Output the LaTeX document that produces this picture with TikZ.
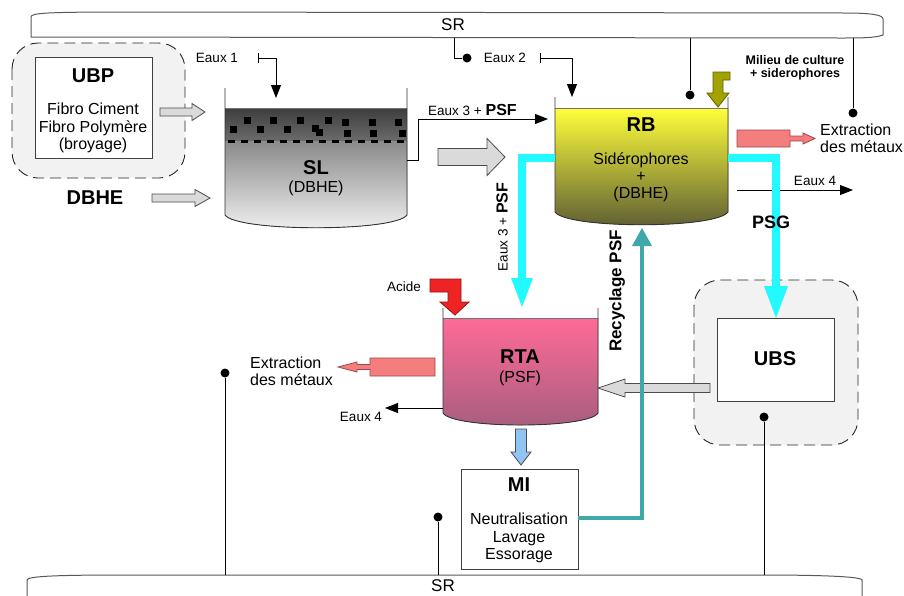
\documentclass[tikz,border=0pt]{standalone}
\usepackage{fontspec}
\setmainfont{Liberation Sans}
\usetikzlibrary{arrows.meta}
\definecolor{grpgray}{HTML}{F2F2F2}
\definecolor{arrgray}{HTML}{DADADA}
\definecolor{salmon}{HTML}{F47E7E}
\definecolor{salmonline}{HTML}{A04848}
\definecolor{cyanflow}{HTML}{22FAFF}
\definecolor{tealflow}{HTML}{3FA9A9}
\definecolor{olivefill}{HTML}{A3A300}
\definecolor{oliveline}{HTML}{5E5E00}
\definecolor{acidred}{HTML}{EE2424}
\definecolor{acidline}{HTML}{9A1010}
\definecolor{lblue}{HTML}{90C4F2}
\definecolor{rbtop}{HTML}{FFFF3A}
\definecolor{rbbot}{HTML}{5C5C34}
\definecolor{rtatop}{HTML}{FF6A98}
\definecolor{rtabot}{HTML}{A65E7E}
\begin{document}
\begin{tikzpicture}[x=1pt,y=-1pt,
  lbl/.style={font=\fontsize{13.5}{15}\selectfont, inner sep=0},
  txt/.style={font=\fontsize{16}{17.2}\selectfont, inner sep=0, align=center},
  ttl/.style={font=\fontsize{20}{22}\selectfont\bfseries, inner sep=0},
  srtxt/.style={font=\fontsize{17}{19}\selectfont, inner sep=0},
  wire/.style={draw=black, line width=0.9pt},
  flow/.style={wire, -{Triangle[length=13pt,width=10pt]}},
  dotc/.style={fill=black, circle, inner sep=0, minimum size=9pt},
  grp/.style={draw=black!85, fill=grpgray, dash pattern=on 11pt off 6pt, rounded corners=26pt, line width=0.9pt},
  boxw/.style={draw=black!75, fill=white, line width=0.9pt, inner sep=0},
  hollow/.style={draw=black!70, fill=arrgray, line width=0.8pt},
  barline/.style={draw=black!65, line width=1pt},
  tankline/.style={draw=black!80, line width=0.9pt},
  salm/.style={draw=salmonline, fill=salmon, line width=0.8pt}
]
\useasboundingbox (0,0) rectangle (904,595);
\clip (0,0) rectangle (904,595);

% ---------- SR bars ----------
\draw[barline] (31,17) .. controls (31,13) and (45,12) .. (130,12) -- (845,13) .. controls (872,13) and (883,15) .. (883,19) -- (883,35) .. controls (875,38) and (860,38) .. (840,38) -- (31,37) -- cycle;
\node[srtxt] (srtop) at (453,25) {SR};
\draw[barline] (27,600) -- (27,580) .. controls (27,576) and (60,575) .. (126,575) -- (760,575) .. controls (830,575) and (862,577) .. (862,580) -- (862,600);
\node[srtxt] (srbot) at (443,586) {SR};

% ---------- UBP group ----------
\draw[grp] (12,43) rectangle (185,178);
\node[boxw, minimum width=117pt, minimum height=101pt] (ubpbox) at (93.5,107.5) {};
\node[ttl] (ubp) at (93,76) {UBP};
\node[txt] (ubptxt) at (93,128) {Fibro Ciment\\Fibro Polymère\\(broyage)};
\node[ttl] (dbhe) at (95,198) {DBHE};
\draw[hollow] (160,108) -- (192,108) -- (192,103.5) -- (205,112) -- (192,120.5) -- (192,116) -- (160,116) -- cycle;
\draw[hollow] (152,194) -- (195,194) -- (195,189.5) -- (210,198) -- (195,206.5) -- (195,202) -- (152,202) -- cycle;

% ---------- SL tank ----------
\fill[top color=black!76, bottom color=black!58] (225,108) rectangle (407,141);
\fill[top color=black!46, bottom color=black!5] (225,141) -- (407,141) -- (407,215) .. controls (395,232) and (237,232) .. (225,215) -- cycle;
\foreach \px/\py in {247/120,273/120,300/120,328/120,345/122,372/122,398/122,233/129,260/129,287/129,315/128,319/132,347/133,373/133,402/133}
  \fill[black] (\px-3.5,\py-3.5) rectangle +(7,7);
\draw[black, line width=3pt, dash pattern=on 7pt off 6pt] (228,141) -- (406,141);
\draw[black!55, line width=0.8pt] (225,108) -- (407,108);
\draw[tankline] (225,88) -- (225,215) .. controls (237,232) and (395,232) .. (407,215) -- (407,88);
\node[ttl] (sl) at (316,168) {SL};
\node[txt] (sltxt) at (316,188) {(DBHE)};

% Eaux 1
\node[lbl] (eaux1) at (217,58) {Eaux 1};
\coordinate (e1a) at (258,58);
\coordinate (e1t) at (276,98);
\draw[wire] (258,53) -- (258,63);
\draw[flow] (e1a) -| (e1t);

% ---------- RB tank ----------
\fill[top color=rbtop, bottom color=rbbot] (555,108) -- (728,108) -- (728,212) .. controls (716,229) and (567,229) .. (555,212) -- cycle;
\draw[black!55, line width=0.8pt] (555,108) -- (728,108);
\draw[tankline] (555,97) -- (555,212) .. controls (567,229) and (716,229) .. (728,212) -- (728,97);
\node[ttl] (rb) at (641,125) {RB};
\node[txt] (rbtxt) at (641,177) {Sidérophores\\+\\(DBHE)};
\coordinate (rbL) at (555,158);
\coordinate (rbR) at (728,158);

% Eaux 2 and SR link
\coordinate (sr2) at (454,38);
\node[dotc] (d2) at (467,58) {};
\draw[wire] (sr2) |- (d2);
\node[lbl] (eaux2) at (505,58) {Eaux 2};
\draw[wire] (540,53) -- (540,63);
\coordinate (e2a) at (540,58);
\coordinate (e2t) at (572,97);
\draw[flow] (e2a) -| (e2t);

% Eaux 3 + PSF (top)
\coordinate (slout) at (407,160);
\coordinate (rbin) at (548,119);
\draw[flow] (slout) -- (418,160) |- (rbin);
\node[anchor=base west, inner sep=0] (e3top) at (428,115) {\fontsize{13.5}{15}\selectfont Eaux 3 + \fontsize{16}{18}\selectfont\bfseries PSF};

% big gray arrow SL -> RB
\draw[hollow] (438,148.5) -- (487,148.5) -- (487,138.5) -- (505,157) -- (487,175.5) -- (487,165.5) -- (438,165.5) -- cycle;

% Milieu de culture
\node[font=\fontsize{12.5}{13}\selectfont\bfseries, align=center, inner sep=0] (milieu) at (795,68) {Milieu de culture\\+ siderophores};
\draw[draw=oliveline, fill=olivefill, line width=0.8pt] (730,72) -- (713,72) -- (713,93) -- (707,93) -- (718,107) -- (729,93) -- (723,93) -- (723,80) -- (730,80) -- cycle;

% SR links to dots (top)
\node[dotc] (d3) at (690,95) {};
\node[dotc] (d4) at (853,113) {};
\draw[wire] (690,38) -- (d3);
\draw[wire] (853,38) -- (d4);

% Extraction (right)
\draw[salm] (737,130) -- (790,130) -- (790,136) -- (803,136) -- (803,133) -- (815,138.5) -- (803,144) -- (803,141) -- (790,141) -- (790,147) -- (737,147) -- cycle;
\node[txt, align=left, anchor=west] (extr1) at (820,138.5) {Extraction\\des métaux};

% Eaux 4 (right)
\coordinate (e4ra) at (737,190);
\coordinate (e4rt) at (853,190);
\draw[flow] (e4ra) -- (e4rt);
\node[lbl] (eaux4r) at (815,181) {Eaux 4};

% ---------- UBS group ----------
\draw[grp] (694,280) rectangle (858,445);
\node[boxw, minimum width=117pt, minimum height=83pt] (ubsbox) at (775.5,359.5) {};
\node[ttl] (ubs) at (775,359) {UBS};
\node[dotc] (d5) at (764,417) {};
\draw[wire] (764,575) -- (d5);

% ---------- RTA tank ----------
\fill[top color=rtatop, bottom color=rtabot] (443,318) -- (598,318) -- (598,413) .. controls (588,429) and (453,429) .. (443,413) -- cycle;
\draw[black!55, line width=0.8pt] (443,318) -- (598,318);
\draw[tankline] (443,308) -- (443,413) .. controls (453,429) and (588,429) .. (598,413) -- (598,308);
\node[ttl] (rta) at (520,357) {RTA};
\node[txt] (rtatxt) at (520,378) {(PSF)};

% UBS -> RTA gray arrow
\draw[hollow] (710,383.5) -- (625,383.5) -- (625,379) -- (598,388) -- (625,397) -- (625,392.5) -- (710,392.5) -- cycle;

% Acide
\node[lbl] (acide) at (404,287) {Acide};
\draw[draw=acidline, fill=acidred, line width=0.8pt] (430,279) -- (461,279) -- (461,302) -- (469,302) -- (455,315) -- (440,302) -- (448,302) -- (448,292) -- (430,292) -- cycle;

% Extraction (left)
\draw[salm] (435,358) -- (370,358) -- (370,364.5) -- (357,364.5) -- (357,362) -- (338,367) -- (357,372) -- (357,369.5) -- (370,369.5) -- (370,376) -- (435,376) -- cycle;
\node[txt, align=left, anchor=west] (extr2) at (250,371.5) {Extraction\\des métaux};

% Eaux 4 (left)
\coordinate (e4la) at (443,408);
\coordinate (e4lt) at (385,408);
\draw[flow] (e4la) -- (e4lt);
\node[lbl] (eaux4l) at (361,417) {Eaux 4};

% dot left
\node[dotc] (d6) at (225,373) {};
\draw[wire] (225,575) -- (d6);

% ---------- cyan flows ----------
\draw[cyanflow, line width=8pt] (rbL) -- (522,158) -- (522,282);
\fill[cyanflow] (511,278) -- (533,278) -- (522,307) -- cycle;
\draw[cyanflow, line width=8pt] (rbR) -- (776,158) -- (776,290);
\fill[cyanflow] (764,286) -- (788,286) -- (776,318) -- cycle;
\node[rotate=90, inner sep=0] (e3side) at (502,227) {\fontsize{13.5}{15}\selectfont Eaux 3 + \fontsize{16}{18}\selectfont\bfseries PSF};
\node[font=\fontsize{18}{20}\selectfont\bfseries, inner sep=0] (psg) at (771,222) {PSG};

% ---------- MI ----------
\draw[draw=black!70, fill=lblue, line width=0.8pt] (515.5,429) -- (526.5,429) -- (526.5,452) -- (531,452) -- (521,465) -- (511,452) -- (515.5,452) -- cycle;
\node[boxw, minimum width=117pt, minimum height=100pt] (mibox) at (519.5,519) {};
\node[ttl] (mi) at (519,485) {MI};
\node[txt] (mitxt) at (519,538) {Neutralisation\\Lavage\\Essorage};
\node[dotc] (d7) at (438,517) {};
\draw[wire] (438,575) -- (d7);

% teal recycling
\draw[tealflow, line width=4pt] (mibox.east |- 0,518) -- (642,518) -- (642,243);
\fill[tealflow] (632,246) -- (652,246) -- (642,228) -- cycle;
\node[rotate=90, font=\fontsize{17}{19}\selectfont\bfseries, inner sep=0] (recyc) at (617,291) {Recyclage PSF};

\end{tikzpicture}
\end{document}
